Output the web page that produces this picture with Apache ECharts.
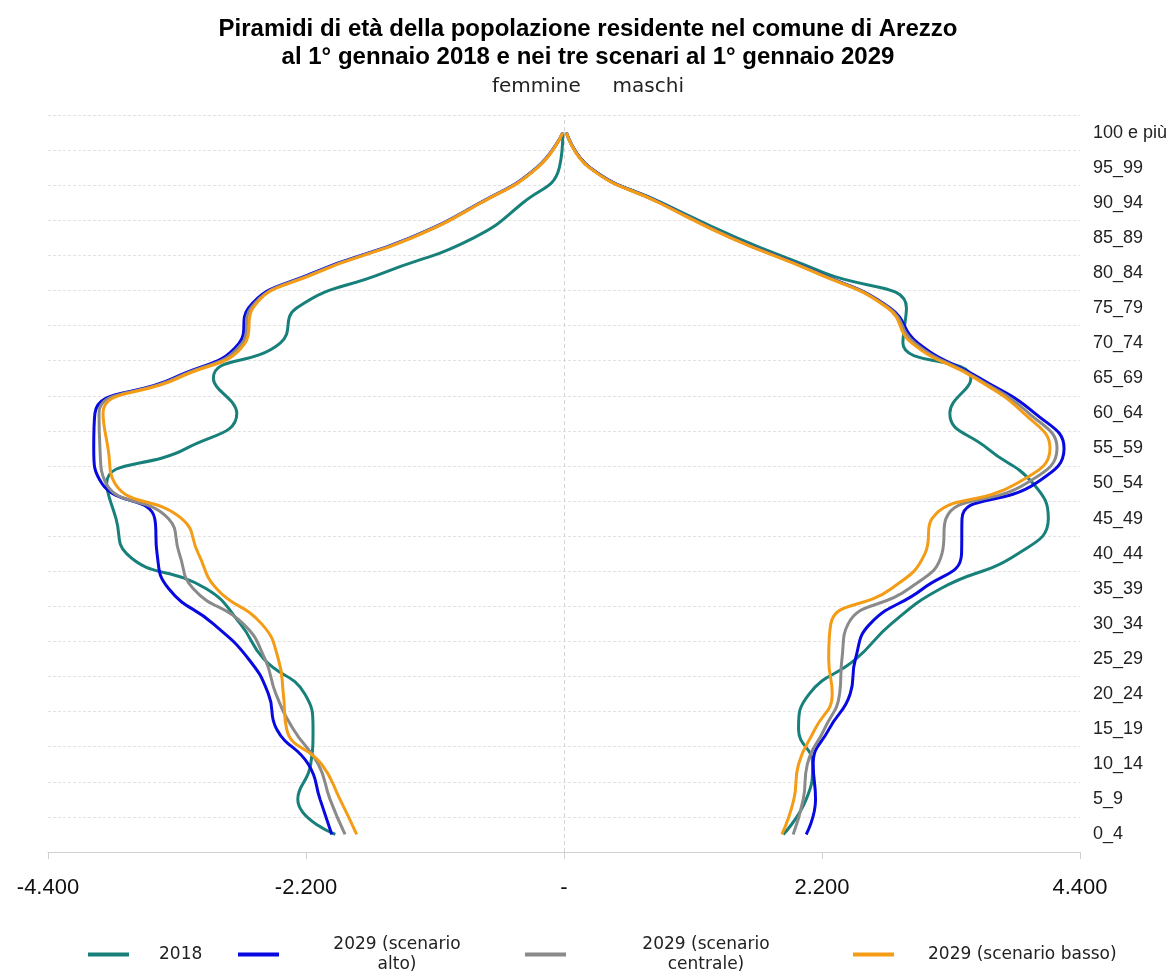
<!DOCTYPE html>
<html>
<head>
<meta charset="utf-8">
<script src="https://cdn.jsdelivr.net/npm/echarts@6/dist/echarts.min.js"></script>
<style>
html,body{margin:0;padding:0;background:#fff;}
#chart{width:1176px;height:971px;}
</style>
</head>
<body>
<div id="chart"></div>
<script>
// Age classes, bottom to top
const categories = ['0_4','5_9','10_14','15_19','20_24','25_29','30_34','35_39','40_44','45_49','50_54','55_59','60_64','65_69','70_74','75_79','80_84','85_89','90_94','95_99','100 e più'];

const seriesNames = ['2018', '2029 (scenario alto)', '2029 (scenario centrale)', '2029 (scenario basso)'];

// females (negative) and males (positive)
const f2018      = [-1950,-2270,-2160,-2140,-2210,-2560,-2760,-3050,-3730,-3820,-3900,-3220,-2790,-2990,-2420,-2280,-1540,-770,-350,-40,-10];
const m2018      = [1870,2065,2120,2000,2090,2490,2790,3210,3870,4130,4000,3610,3290,3470,2890,2920,2220,1475,836,222,20];
const fAlto      = [-1980,-2080,-2180,-2450,-2520,-2690,-2990,-3370,-3470,-3490,-3940,-4010,-4000,-3330,-2770,-2690,-2140,-1313,-716,-233,-10];
const mAlto      = [2065,2145,2125,2260,2440,2485,2610,3060,3390,3394,4020,4264,4016,3547,3019,2780,2166,1430,819,222,20];
const fCentrale  = [-1867,-1995,-2095,-2308,-2456,-2550,-2735,-3161,-3280,-3374,-3905,-3957,-3965,-3310,-2745,-2670,-2125,-1305,-712,-230,-10];
const mCentrale  = [1954,2040,2075,2220,2350,2370,2423,2940,3223,3257,3940,4204,3965,3522,2993,2770,2160,1428,817,220,20];
const fBasso     = [-1768,-1910,-2067,-2365,-2393,-2436,-2578,-2962,-3118,-3260,-3829,-3888,-3931,-3291,-2720,-2652,-2110,-1295,-705,-225,-10];
const mBasso     = [1858,1960,2000,2140,2287,2257,2275,2790,3078,3138,3860,4144,3922,3505,2967,2760,2150,1420,810,215,20];

const xTicks = [-4400, -2200, 0, 2200, 4400];

const colors = ['#17807a', '#0808e0', '#8a8a8a', '#f59c17'];

function fmt(v) {
  if (v === 0) return '-';
  const s = String(Math.abs(v)).replace(/\B(?=(\d{3})+(?!\d))/g, '.');
  return (v < 0 ? '-' : '') + s;
}

const pairs = [[f2018, m2018], [fAlto, mAlto], [fCentrale, mCentrale], [fBasso, mBasso]];
const series = [];
pairs.forEach((p, i) => {
  p.forEach((arr, j) => {
    const s = {
      name: seriesNames[i],
      type: 'line',
      smooth: 0.5,
      showSymbol: false,
      symbol: 'none',
      data: arr,
      color: colors[i],
      lineStyle: { width: 3, color: colors[i] },
      z: 3 + i
    };
    if (i === 0 && j === 0) {
      s.markLine = {
        silent: true,
        symbol: 'none',
        label: { show: false },
        lineStyle: { type: [4, 3], color: '#d4d4d4', width: 1 },
        data: [{ xAxis: 0 }],
        z: 1
      };
    }
    series.push(s);
  });
});

const legFont = { fontFamily: 'DejaVu Sans', fontSize: 17, color: '#222' };
function mkLegend(name, left, top, rich) {
  return {
    data: [name],
    left: left,
    top: top,
    icon: 'rect',
    itemWidth: 41,
    itemHeight: 4,
    selectedMode: false,
    formatter: rich.fmt,
    textStyle: Object.assign({}, legFont, { rich: { a: Object.assign({}, legFont, rich.style) } })
  };
}

const option = {
  backgroundColor: '#fff',
  animation: false,
  title: [
    {
      text: 'Piramidi di età della popolazione residente nel comune di Arezzo\nal 1° gennaio 2018 e nei tre scenari al 1° gennaio 2029',
      left: 'center',
      top: 10,
      textStyle: { fontFamily: 'Liberation Sans', fontSize: 24, fontWeight: 'bold', color: '#000', lineHeight: 28, align: 'center' }
    },
    {
      text: 'femmine     maschi',
      left: 'center',
      top: 72,
      textStyle: { fontFamily: 'DejaVu Sans', fontSize: 20, fontWeight: 'normal', color: '#222' }
    }
  ],
  legend: [
    mkLegend(seriesNames[0], 83, 941, { fmt: n => '{a|' + n + '}', style: { padding: [0, 0, 0, 25], lineHeight: 20 } }),
    mkLegend(seriesNames[1], 233, 931, { fmt: () => '{a|2029 (scenario}\n{a|alto)}', style: { width: 226, align: 'center', lineHeight: 20 } }),
    mkLegend(seriesNames[2], 520, 931, { fmt: () => '{a|2029 (scenario}\n{a|centrale)}', style: { width: 270, align: 'center', lineHeight: 20 } }),
    mkLegend(seriesNames[3], 848, 941, { fmt: n => '{a|' + n + '}', style: { padding: [0, 0, 0, 29], lineHeight: 20 } })
  ],
  grid: { left: 48, right: 96, top: 115, bottom: 119, containLabel: false },
  xAxis: {
    type: 'value',
    min: -4400,
    max: 4400,
    interval: 2200,
    axisLine: { show: true, lineStyle: { color: '#d0d0d0', width: 1 } },
    axisTick: { show: true, length: 7, lineStyle: { color: '#d0d0d0' } },
    splitLine: { show: false },
    axisLabel: {
      margin: 25,
      fontFamily: 'Liberation Sans',
      fontSize: 22,
      color: '#111',
      formatter: v => fmt(v),
      showMinLabel: true,
      showMaxLabel: true
    }
  },
  yAxis: {
    type: 'category',
    data: categories,
    position: 'right',
    boundaryGap: true,
    axisLine: { show: false },
    axisTick: { show: false },
    splitLine: { show: true, lineStyle: { color: '#e3e3e3', type: [3, 2], width: 1 } },
    axisLabel: {
      margin: 13,
      fontFamily: 'Liberation Sans',
      fontSize: 18,
      color: '#222',
      interval: 0
    }
  },
  series: series
};

const chart = echarts.init(document.getElementById('chart'), null, { renderer: 'canvas' });
chart.setOption(option);
</script>
</body>
</html>
